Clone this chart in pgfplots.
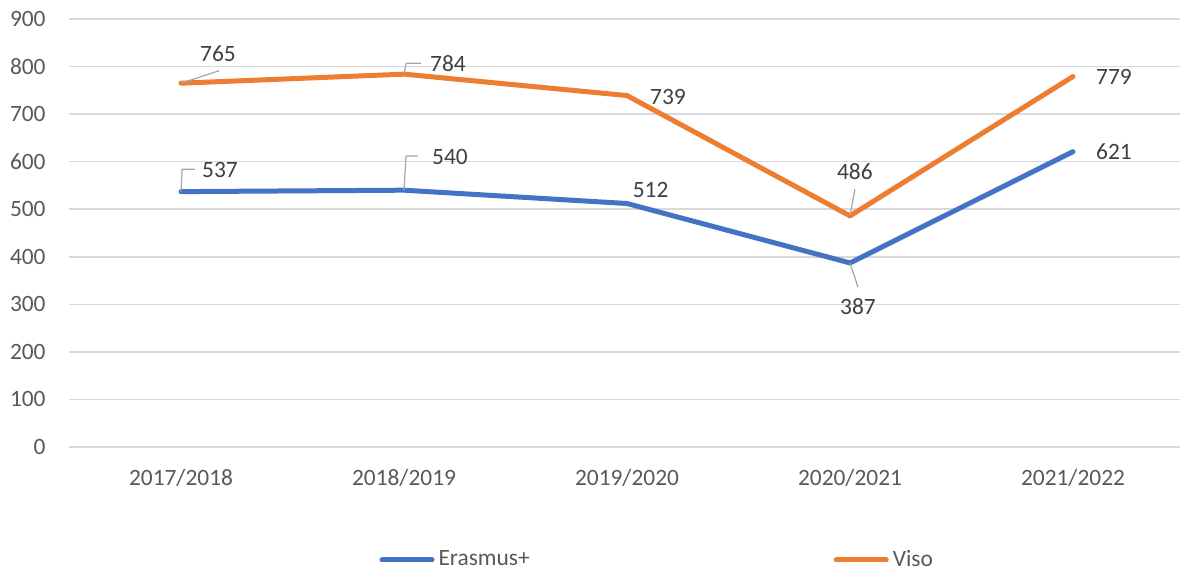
\documentclass[border=0pt]{standalone}
\usepackage{fontspec}
\setmainfont{Carlito}
\usepackage{pgfplots}
\pgfplotsset{compat=1.18}
\definecolor{eblue}{HTML}{4472C4}
\definecolor{vorange}{HTML}{ED7D31}
\definecolor{gridc}{HTML}{D9D9D9}
\definecolor{tickc}{HTML}{595959}
\definecolor{labc}{HTML}{404040}
\definecolor{leadc}{HTML}{A6A6A6}

\begin{document}
\begin{tikzpicture}[x=1pt,y=1pt,
    lbl/.style={font=\fontsize{11.7}{14}\selectfont, text=labc, inner sep=0pt},
    lead/.style={leadc, line width=0.6pt}]
\useasboundingbox (-34.75,-62.5) rectangle (555.25,223.5);
\begin{axis}[
    scale only axis,
    width=557.5pt, height=214pt,
    xmin=-0.5, xmax=4.5,
    ymin=0, ymax=900,
    xtick={0,1,2,3,4},
    xticklabels={2017/2018,2018/2019,2019/2020,2020/2021,2021/2022},
    ytick={0,100,...,900},
    ymajorgrids=true,
    grid style={gridc, line width=0.75pt},
    axis line style={draw=none},
    major tick length=0pt,
    clip=false,
    /pgf/number format/assume math mode=true,
    ticklabel style={font=\fontsize{11.7}{14}\selectfont, text=tickc, inner sep=0pt},
    yticklabel style={xshift=-11.75pt},
    xticklabel style={yshift=-11pt},
    legend columns=2,
    legend style={at={(0.528,-0.264)}, anchor=center, draw=none, fill=none,
      font=\fontsize{11.7}{14}\selectfont, text=tickc,
      /tikz/every even column/.append style={column sep=150pt}},
    legend image code/.code={\draw[#1] (0pt,0pt) -- (25pt,0pt);},
  ]
  \addplot[eblue, line width=2.5pt, line join=round, line cap=round]
    coordinates {(0,537)(1,540)(2,512)(3,387)(4,621)};
  \addlegendentry{Erasmus+}
  \addplot[vorange, line width=2.5pt, line join=round, line cap=round]
    coordinates {(0,765)(1,784)(2,739)(3,486)(4,779)};
  \addlegendentry{Viso}

  % leader lines
  \draw[lead] (axis cs:0,765) -- (axis cs:0.17,791);
  \draw[lead] (axis cs:1,784) -- (axis cs:1.01,807) -- (axis cs:1.076,807);
  \draw[lead] (axis cs:3,486) -- (axis cs:3.022,542);
  \draw[lead] (axis cs:0,537) -- (axis cs:0.005,584) -- (axis cs:0.063,584);
  \draw[lead] (axis cs:1,540) -- (axis cs:1.009,612) -- (axis cs:1.063,612);
  \draw[lead] (axis cs:3,387) -- (axis cs:3.036,336);

  % data labels
  \node[lbl] at (axis cs:0.166,826) {765};
  \node[lbl] at (axis cs:1.197,807) {784};
  \node[lbl] at (axis cs:2.184,736) {739};
  \node[lbl] at (axis cs:3.022,580) {486};
  \node[lbl] at (axis cs:4.184,778) {779};
  \node[lbl] at (axis cs:0.175,582) {537};
  \node[lbl] at (axis cs:1.206,610) {540};
  \node[lbl] at (axis cs:2.106,540) {512};
  \node[lbl] at (axis cs:3.036,296) {387};
  \node[lbl] at (axis cs:4.184,620) {621};
\end{axis}
\end{tikzpicture}
\end{document}
